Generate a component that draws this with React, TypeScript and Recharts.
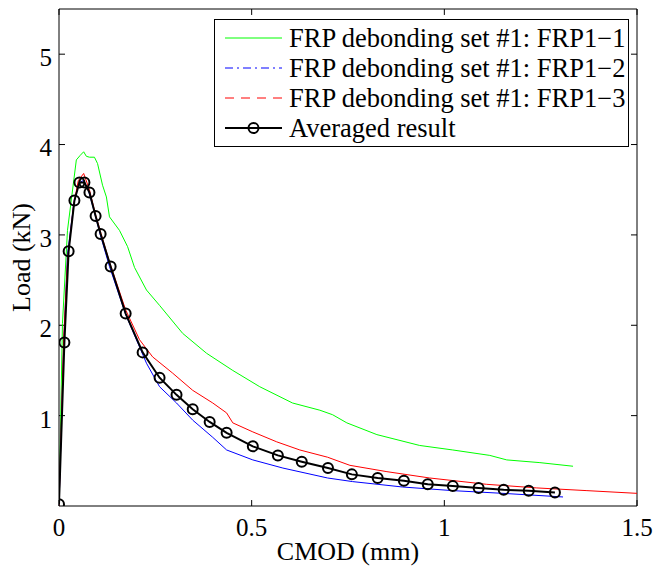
import { LineChart, Line, XAxis, YAxis, Label, ReferenceLine } from "recharts";

// tick values
const xTicks = [0, 0.5, 1, 1.5];
const yTicks = [1, 2, 3, 4, 5];

// FRP1-1 (green)
const frp1X = [0, 0.009, 0.022, 0.045, 0.055, 0.064, 0.071, 0.079, 0.092, 0.1, 0.113, 0.123, 0.131, 0.157, 0.178, 0.196, 0.227, 0.261, 0.321, 0.383, 0.451, 0.521, 0.606, 0.677, 0.71, 0.747, 0.825, 0.936, 1.022, 1.118, 1.162, 1.248, 1.334];
const frp1Y = [0, 2.02, 3.05, 3.83, 3.88, 3.92, 3.87, 3.86, 3.86, 3.79, 3.55, 3.42, 3.2, 3.05, 2.87, 2.64, 2.39, 2.22, 1.91, 1.69, 1.5, 1.32, 1.14, 1.06, 1.01, 0.92, 0.79, 0.67, 0.62, 0.56, 0.51, 0.48, 0.44];

// FRP1-2 (blue)
const frp2X = [0, 0.012, 0.022, 0.038, 0.05, 0.061, 0.074, 0.092, 0.108, 0.131, 0.173, 0.201, 0.227, 0.261, 0.305, 0.347, 0.399, 0.435, 0.503, 0.581, 0.697, 0.762, 0.892, 1.022, 1.152, 1.308];
const frp2Y = [0, 1.78, 2.78, 3.33, 3.56, 3.6, 3.53, 3.25, 2.99, 2.65, 2.12, 1.84, 1.58, 1.32, 1.14, 0.95, 0.76, 0.62, 0.51, 0.42, 0.31, 0.27, 0.21, 0.17, 0.14, 0.1];

// FRP1-3 (red)
const frp3X = [0, 0.012, 0.022, 0.038, 0.05, 0.064, 0.079, 0.095, 0.108, 0.131, 0.173, 0.209, 0.243, 0.295, 0.347, 0.399, 0.435, 0.451, 0.503, 0.565, 0.625, 0.697, 0.755, 0.851, 0.962, 1.11, 1.24, 1.37, 1.5];
const frp3Y = [0, 1.84, 2.72, 3.33, 3.6, 3.68, 3.5, 3.22, 3.03, 2.7, 2.17, 1.84, 1.65, 1.47, 1.28, 1.14, 1.03, 0.92, 0.82, 0.71, 0.62, 0.54, 0.45, 0.38, 0.31, 0.24, 0.2, 0.17, 0.14];

// averaged result (black, markers)
const avgX = [0, 0.014, 0.025, 0.04, 0.053, 0.066, 0.079, 0.095, 0.108, 0.134, 0.173, 0.217, 0.261, 0.305, 0.347, 0.391, 0.435, 0.503, 0.568, 0.63, 0.698, 0.76, 0.827, 0.895, 0.957, 1.022, 1.089, 1.154, 1.219, 1.287];
const avgY = [0.02, 1.81, 2.82, 3.38, 3.58, 3.58, 3.47, 3.21, 3.01, 2.65, 2.13, 1.7, 1.42, 1.23, 1.07, 0.93, 0.81, 0.66, 0.56, 0.49, 0.42, 0.35, 0.31, 0.28, 0.24, 0.22, 0.2, 0.18, 0.17, 0.15];

const seriesNames = [
  "FRP debonding set #1: FRP1\u22121",
  "FRP debonding set #1: FRP1\u22122",
  "FRP debonding set #1: FRP1\u22123",
  "Averaged result",
];

const X_MAX = 1.5;
const Y_MAX = 5.5;
// inward tick length (~6px) in data units
const TICK_X = 0.0156;
const TICK_Y = 0.066;

const zip = (xs: number[], ys: number[]) => xs.map((x, i) => ({ x, y: ys[i] }));

const FONT = "'Liberation Serif', 'DejaVu Serif', serif";

function Legendbox() {
  const rows = [
    { stroke: "#00ff00", dash: undefined, w: 1, dot: false },
    { stroke: "#0000ff", dash: "8 4 2 4", w: 1, dot: false },
    { stroke: "#ff0000", dash: "9 7", w: 1, dot: false },
    { stroke: "#000000", dash: undefined, w: 2, dot: true },
  ];
  return (
    <svg
      width={415}
      height={128}
      style={{ position: "absolute", left: 214, top: 19, fontFamily: FONT }}
    >
      <rect x={0.5} y={0.5} width={414} height={127} fill="#fff" stroke="#000" />
      {rows.map((r, i) => {
        const cy = 19 + i * 30;
        return (
          <g key={i}>
            <line x1={11} x2={68} y1={cy} y2={cy} stroke={r.stroke} strokeWidth={r.w} strokeDasharray={r.dash} />
            {r.dot && <circle cx={39.5} cy={cy} r={5} fill="none" stroke="#000" strokeWidth={2} />}
            <text x={75} y={cy + 9} style={{ fontFamily: FONT }} fontSize={26.5} fill="#000">
              {seriesNames[i]}
            </text>
          </g>
        );
      })}
    </svg>
  );
}

export default function App() {
  return (
    <div style={{ position: "absolute", left: 0, top: 0, width: 654, height: 571, background: "#fff", fontFamily: FONT }}>
      <LineChart
        width={654}
        height={571}
        margin={{ top: 9, right: 17, bottom: 0, left: 0 }}
        style={{ fontFamily: FONT }}
      >
        <XAxis
          type="number"
          dataKey="x"
          domain={[0, X_MAX]}
          ticks={xTicks}
          allowDataOverflow
          height={65}
          stroke="#000"
          tickLine={false}
          tickSize={0}
          tickMargin={12}
          tick={{ fill: "#000", fontSize: 25, style: { fontFamily: FONT } }}
        >
          <Label
            content={({ viewBox }: any) => (
              <text
                x={viewBox.x + viewBox.width / 2}
                y={viewBox.y + 54}
                textAnchor="middle"
                style={{ fontFamily: FONT }}
                fontSize={26}
                fill="#000"
              >
                CMOD (mm)
              </text>
            )}
          />
        </XAxis>
        <YAxis
          type="number"
          domain={[0, Y_MAX]}
          ticks={yTicks}
          allowDataOverflow
          width={59}
          stroke="#000"
          tickLine={false}
          tickSize={0}
          tickMargin={7}
          tick={{ fill: "#000", fontSize: 25, dy: 3, style: { fontFamily: FONT } }}
        >
          <Label
            content={({ viewBox }: any) => {
              const cx = viewBox.x + 21;
              const cy = viewBox.y + viewBox.height / 2;
              return (
                <text
                  x={cx}
                  y={cy}
                  transform={`rotate(-90, ${cx}, ${cy})`}
                  textAnchor="middle"
                  dominantBaseline="central"
                  style={{ fontFamily: FONT }}
                  fontSize={26}
                  fill="#000"
                >
                  Load (kN)
                </text>
              );
            }}
          />
        </YAxis>

        {/* box frame */}
        <ReferenceLine y={Y_MAX} stroke="#000" ifOverflow="visible" />
        <ReferenceLine x={X_MAX} stroke="#000" ifOverflow="visible" />

        {/* inward ticks on all four sides */}
        {xTicks.map((t) => (
          <ReferenceLine key={`xb${t}`} segment={[{ x: t, y: 0 }, { x: t, y: TICK_Y }]} stroke="#000" ifOverflow="visible" />
        ))}
        {xTicks.map((t) => (
          <ReferenceLine key={`xt${t}`} segment={[{ x: t, y: Y_MAX }, { x: t, y: Y_MAX - TICK_Y }]} stroke="#000" ifOverflow="visible" />
        ))}
        {yTicks.map((t) => (
          <ReferenceLine key={`yl${t}`} segment={[{ x: 0, y: t }, { x: TICK_X, y: t }]} stroke="#000" ifOverflow="visible" />
        ))}
        {yTicks.map((t) => (
          <ReferenceLine key={`yr${t}`} segment={[{ x: X_MAX, y: t }, { x: X_MAX - TICK_X, y: t }]} stroke="#000" ifOverflow="visible" />
        ))}

        <Line data={zip(frp1X, frp1Y)} dataKey="y" stroke="#00ff00" strokeWidth={1} dot={false} isAnimationActive={false} />
        <Line data={zip(frp2X, frp2Y)} dataKey="y" stroke="#0000ff" strokeWidth={1} dot={false} isAnimationActive={false} />
        <Line data={zip(frp3X, frp3Y)} dataKey="y" stroke="#ff0000" strokeWidth={1} dot={false} isAnimationActive={false} />
        <Line
          data={zip(avgX, avgY)}
          dataKey="y"
          stroke="#000"
          strokeWidth={2}
          dot={{ r: 5, fill: "none", stroke: "#000", strokeWidth: 2 }}
          isAnimationActive={false}
        />
      </LineChart>
      <Legendbox />
    </div>
  );
}
